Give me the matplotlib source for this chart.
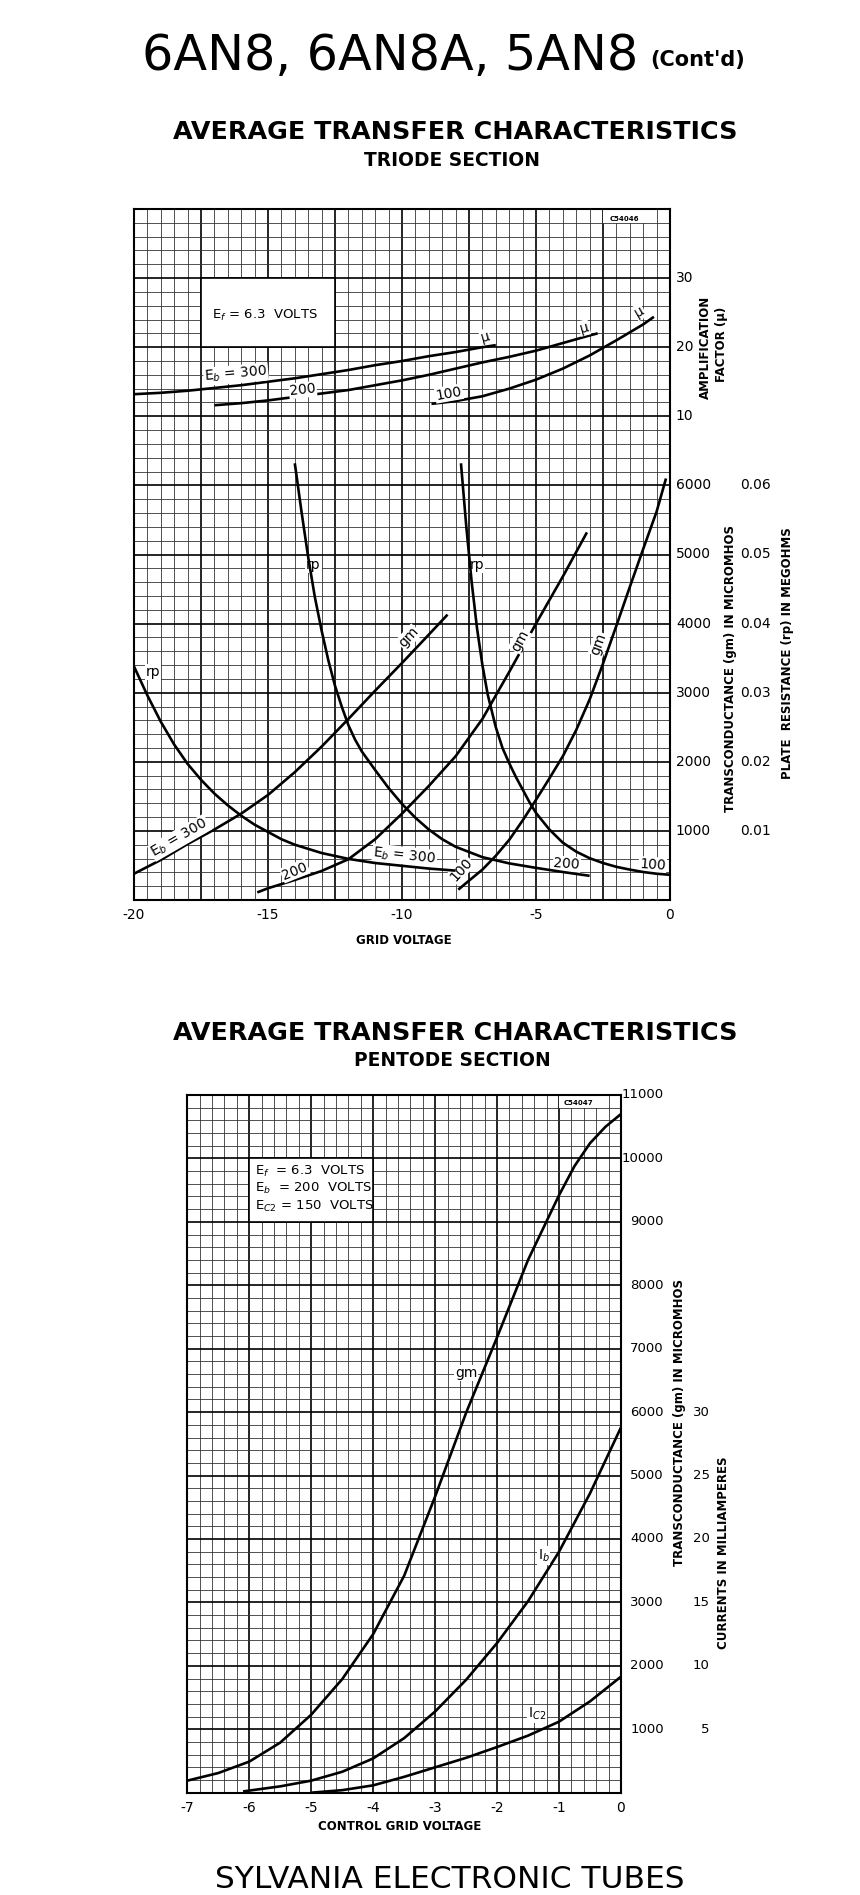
import numpy as np
import matplotlib
matplotlib.use("Agg")
import matplotlib.pyplot as plt
from matplotlib.patches import Rectangle

plt.rcParams["font.family"] = ["DejaVu Sans"]
plt.rcParams["axes.unicode_minus"] = False

# ---- triode section (grid voltage in volts) ----
# amplification factor mu
mu300_v = [-20, -19, -18, -17, -16, -15, -14, -13, -12, -11, -10, -9, -8, -7, -6.5]
mu300 = [13.2, 13.4, 13.7, 14.1, 14.5, 15.0, 15.5, 16.1, 16.7, 17.4, 18.0, 18.7, 19.3, 20.0, 20.3]
mu200_v = [-17, -16, -15, -14, -13, -12, -11, -10, -9, -8, -7, -6, -5, -4, -3, -2.7]
mu200 = [11.6, 11.9, 12.3, 12.8, 13.3, 13.8, 14.5, 15.2, 16.0, 16.9, 17.8, 18.6, 19.5, 20.6, 21.7, 22.0]
mu100_v = [-8.9, -8, -7, -6, -5, -4, -3, -2, -1, -0.6]
mu100 = [11.8, 12.2, 12.9, 14.0, 15.3, 16.9, 18.8, 21.0, 23.3, 24.4]

# transconductance gm (micromhos)
gm300_v = [-20, -19, -18, -17, -16, -15, -14, -13, -12, -11, -10, -9, -8.3]
gm300 = [380, 580, 810, 1020, 1250, 1520, 1850, 2220, 2620, 3030, 3430, 3840, 4130]
gm200_v = [-15.4, -15, -14, -13, -12, -11, -10, -9, -8, -7, -6.5, -6, -5, -4, -3.1]
gm200 = [110, 170, 290, 420, 590, 880, 1250, 1650, 2080, 2620, 2960, 3300, 4000, 4680, 5320]
gm100_v = [-7.9, -7.5, -7, -6.5, -6, -5.5, -5, -4.5, -4, -3.5, -3, -2.5, -2, -1.5, -1, -0.5, -0.15]
gm100 = [150, 280, 440, 640, 870, 1150, 1450, 1760, 2080, 2460, 2900, 3420, 3970, 4530, 5080, 5620, 6100]

# plate resistance rp (megohms)
rp300_v = [-20, -19.5, -19, -18.5, -18, -17.5, -17, -16.5, -16, -15.5, -15, -14.5, -14, -13, -12,
           -11, -10, -9, -8]
rp300 = [0.0338, 0.0296, 0.0258, 0.0225, 0.0197, 0.0174, 0.0154, 0.0137, 0.0122, 0.0109, 0.00985,
         0.0088, 0.0080, 0.0068, 0.00595, 0.00535, 0.00495, 0.00455, 0.00425]
rp200_v = [-14, -13.75, -13.5, -13.25, -13, -12.75, -12.5, -12.25, -12, -11.75, -11.5, -11, -10.5,
           -10, -9.5, -9, -8.5, -8, -7, -6, -5, -4, -3]
rp200 = [0.0632, 0.0562, 0.0496, 0.0438, 0.0390, 0.0347, 0.0310, 0.0280, 0.0253, 0.0232, 0.0215,
         0.0188, 0.0162, 0.0139, 0.0119, 0.0102, 0.0088, 0.0077, 0.0062, 0.0053, 0.00465,
         0.00405, 0.0035]
rp100_v = [-7.8, -7.6, -7.4, -7.2, -7.0, -6.8, -6.5, -6.25, -6, -5.75, -5.5, -5.25, -5, -4.5, -4,
           -3.5, -3, -2.5, -2, -1.5, -1, -0.5, 0]
rp100 = [0.0632, 0.0540, 0.0460, 0.0393, 0.0340, 0.0297, 0.0250, 0.0220, 0.0198, 0.0178, 0.0160,
         0.0142, 0.0126, 0.0102, 0.0083, 0.0070, 0.00605, 0.00535, 0.0048, 0.0044, 0.00405,
         0.0038, 0.00365]

# ---- pentode section (control grid voltage in volts) ----
pgm_v = [-7, -6.5, -6, -5.5, -5, -4.5, -4, -3.5, -3, -2.5, -2, -1.5, -1, -0.75, -0.5, -0.25, 0]
pgm = [190, 310, 490, 790, 1230, 1790, 2500, 3420, 4670, 5990, 7180, 8400, 9420, 9880, 10240,
       10500, 10700]
ib_v = [-6.1, -5.5, -5, -4.5, -4, -3.5, -3, -2.5, -2, -1.5, -1, -0.5, 0]
ib = [0.1, 0.5, 0.95, 1.65, 2.7, 4.3, 6.4, 8.9, 11.8, 15.1, 19.0, 23.6, 28.8]
ic2_v = [-5, -4.5, -4, -3.5, -3, -2.5, -2, -1.5, -1, -0.5, 0]
ic2 = [0.0, 0.2, 0.58, 1.25, 2.0, 2.75, 3.6, 4.5, 5.6, 7.2, 9.15]

triode_x = [-20, -15, -10, -5, 0]
pentode_x = [-7, -6, -5, -4, -3, -2, -1, 0]
triode_gm_ticks = [1000, 2000, 3000, 4000, 5000, 6000]
triode_mu_ticks = [10, 20, 30]
triode_rp_ticks = [0.01, 0.02, 0.03, 0.04, 0.05, 0.06]
pentode_gm_ticks = [1000, 2000, 3000, 4000, 5000, 6000, 7000, 8000, 9000, 10000, 11000]
pentode_i_ticks = [5, 10, 15, 20, 25, 30]

W, H = 860, 1895
fig = plt.figure(figsize=(W / 100, H / 100), dpi=100, facecolor="white")


def paper(ax, x0, x1, xmaj, xmin_, y1, ymaj, ymin_, labels):
    ax.set_xlim(x0, x1)
    ax.set_ylim(0, y1)
    xt = np.arange(x0, x1 + 1e-9, xmaj)
    ax.set_xticks(xt)
    ax.set_xticklabels([f"{v:g}" if any(abs(v - l) < 1e-9 for l in labels) else "" for v in xt])
    ax.set_xticks(np.arange(x0, x1 + 1e-9, xmin_), minor=True)
    ax.set_yticks(np.arange(0, y1 + 1, ymaj))
    ax.set_yticks(np.arange(0, y1 + 1, ymin_), minor=True)
    ax.grid(which="minor", color="#333333", lw=0.6)
    ax.grid(which="major", color="black", lw=1.2)
    ax.set_axisbelow(True)
    ax.tick_params(which="both", length=0)
    ax.tick_params(axis="y", labelleft=False)
    ax.tick_params(axis="x", labelsize=10, pad=6)
    for s in ax.spines.values():
        s.set_linewidth(1.5)


lab = dict(fontsize=10, color="black", ha="center", va="center",
           bbox=dict(fc="white", ec="none", pad=0.6))
curve = dict(color="black", lw=1.9, solid_capstyle="butt")

# ================= TRIODE =================
ax = fig.add_axes([134 / W, 1 - 900 / H, 536 / W, 691 / H])
paper(ax, -20, 0, 2.5, 0.5, 10000, 1000, 200, triode_x)
ax_mu = ax.twinx()
ax_mu.set_ylim(-60, 40)
ax_mu.axis("off")
ax_rp = ax.twinx()
ax_rp.set_ylim(0, 0.1)
ax_rp.axis("off")

for v, y in [(mu300_v, mu300), (mu200_v, mu200), (mu100_v, mu100)]:
    ax_mu.plot(v, y, **curve)
for v, y in [(gm300_v, gm300), (gm200_v, gm200), (gm100_v, gm100)]:
    ax.plot(v, y, **curve)
for v, y in [(rp300_v, rp300), (rp200_v, rp200), (rp100_v, rp100)]:
    ax_rp.plot(v, y, **curve)

ax.add_patch(Rectangle((-17.5, 8000), 5, 1000, fc="white", ec="black", lw=1.2, zorder=1))
ax.text(-15.1, 8460, "E$_f$ = 6.3  VOLTS", fontsize=9.5, ha="center", va="center")
ax.add_patch(Rectangle((-2.5, 9800), 2, 200, fc="white", ec="none", zorder=1))
ax.text(-1.7, 9860, "C54046", fontsize=5, fontweight="bold", ha="center", va="center")

ax_mu.text(-16.2, 16.1, "E$_b$ = 300", rotation=5, **lab)
ax_mu.text(-13.7, 13.8, "200", rotation=6, **lab)
ax_mu.text(-8.25, 13.3, "100", rotation=10, **lab)
ax_mu.text(-6.9, 21.5, "μ", rotation=15, **lab)
ax_mu.text(-3.2, 22.8, "μ", rotation=15, **lab)
ax_mu.text(-1.15, 25.1, "μ", rotation=30, **lab)

ax.text(-19.3, 3300, "rp", **lab)
ax.text(-13.3, 4850, "rp", **lab)
ax.text(-7.2, 4850, "rp", **lab)
ax.text(-9.75, 3800, "gm", rotation=47, **lab)
ax.text(-5.6, 3750, "gm", rotation=62, **lab)
ax.text(-2.65, 3700, "gm", rotation=70, **lab)
ax.text(-18.3, 900, "E$_b$ = 300", rotation=30, **lab)
ax.text(-14.0, 420, "200", rotation=22, **lab)
ax.text(-9.9, 640, "E$_b$ = 300", rotation=-6, **lab)
ax.text(-7.8, 440, "100", rotation=48, **lab)
ax.text(-3.85, 520, "200", rotation=-4, **lab)
ax.text(-0.65, 510, "100", rotation=-4, **lab)

yt = ax.get_yaxis_transform()
for v in triode_gm_ticks:
    ax.text(1.011, v, f"{v}", transform=yt, fontsize=10, ha="left", va="center")
for m in triode_mu_ticks:
    ax_mu.text(1.011, m, f"{m}", transform=ax_mu.get_yaxis_transform(), fontsize=10,
               ha="left", va="center")
for r in triode_rp_ticks:
    ax_rp.text(1.159, r, f"{r:.2f}", transform=ax_rp.get_yaxis_transform(), fontsize=10,
               ha="center", va="center")
side = dict(rotation=90, fontsize=8.5, fontweight="bold", ha="center", va="center")
ax_mu.text(1.066, 20, "AMPLIFICATION", transform=ax_mu.get_yaxis_transform(), **side)
ax_mu.text(1.097, 20.4, "FACTOR (μ)", transform=ax_mu.get_yaxis_transform(), **side)
ax.text(1.112, 3350, "TRANSCONDUCTANCE (gm) IN MICROMHOS", transform=yt, **side)
ax.text(1.22, 3570, "PLATE  RESISTANCE (rp) IN MEGOHMS", transform=yt, **side)

# ================= PENTODE =================
ax2 = fig.add_axes([187.3 / W, 1 - 1792.7 / H, 433.7 / W, 697.7 / H])
paper(ax2, -7, 0, 1, 0.2, 11000, 1000, 200, pentode_x)
ax_i = ax2.twinx()
ax_i.set_ylim(0, 55)
ax_i.axis("off")

ax2.plot(pgm_v, pgm, **curve)
ax_i.plot(ib_v, ib, **curve)
ax_i.plot(ic2_v, ic2, **curve)

ax2.add_patch(Rectangle((-6, 9000), 2, 1000, fc="white", ec="black", lw=1.2, zorder=1))
for yy, s in [(9790, "E$_f$  = 6.3  VOLTS"), (9520, "E$_b$  = 200  VOLTS"),
              (9240, "E$_{C2}$ = 150  VOLTS")]:
    ax2.text(-5.9, yy, s, fontsize=9.5, ha="left", va="center")
ax2.add_patch(Rectangle((-1.0, 10800), 0.65, 200, fc="white", ec="none", zorder=1))
ax2.text(-0.68, 10880, "C54047", fontsize=5, fontweight="bold", ha="center", va="center")

ax2.text(-2.5, 6620, "gm", **lab)
ax_i.text(-1.25, 18.7, "I$_b$", **lab)
ax_i.text(-1.35, 6.2, "I$_{C2}$", **lab)

yt2 = ax2.get_yaxis_transform()
for v in pentode_gm_ticks:
    ax2.text(1.099, v, f"{v}", transform=yt2, fontsize=9.5, ha="right", va="center")
for c in pentode_i_ticks:
    ax_i.text(1.205, c, f"{c}", transform=ax_i.get_yaxis_transform(), fontsize=9.5,
              ha="right", va="center")
ax2.text(1.136, 5830, "TRANSCONDUCTANCE (gm) IN MICROMHOS", transform=yt2, **side)
ax_i.text(1.237, 18.9, "CURRENTS IN MILLIAMPERES", transform=ax_i.get_yaxis_transform(), **side)

# ================= page text =================
fig.text(638 / W, 1 - 56 / H, "6AN8, 6AN8A, 5AN8", fontsize=35.5, ha="right", va="center")
fig.text(650 / W, 1 - 60 / H, "(Cont'd)", fontsize=15, fontweight="bold", ha="left", va="center")
for y0, sub in [(132, "TRIODE SECTION"), (1033, "PENTODE SECTION")]:
    fig.text(455 / W, 1 - y0 / H, "AVERAGE TRANSFER CHARACTERISTICS", fontsize=18.3,
             fontweight="bold", ha="center", va="center")
    fig.text(452 / W, 1 - (y0 + 28) / H, sub, fontsize=13.4, fontweight="bold",
             ha="center", va="center")
fig.text(404 / W, 1 - 940 / H, "GRID VOLTAGE", fontsize=8.5, fontweight="bold",
         ha="center", va="center")
fig.text(400 / W, 1 - 1826 / H, "CONTROL GRID VOLTAGE", fontsize=8.5, fontweight="bold",
         ha="center", va="center")
fig.text(450 / W, 1 - 1880 / H, "SYLVANIA ELECTRONIC TUBES", fontsize=22.5,
         ha="center", va="center")

fig.savefig("out.png", dpi=100, facecolor="white")
